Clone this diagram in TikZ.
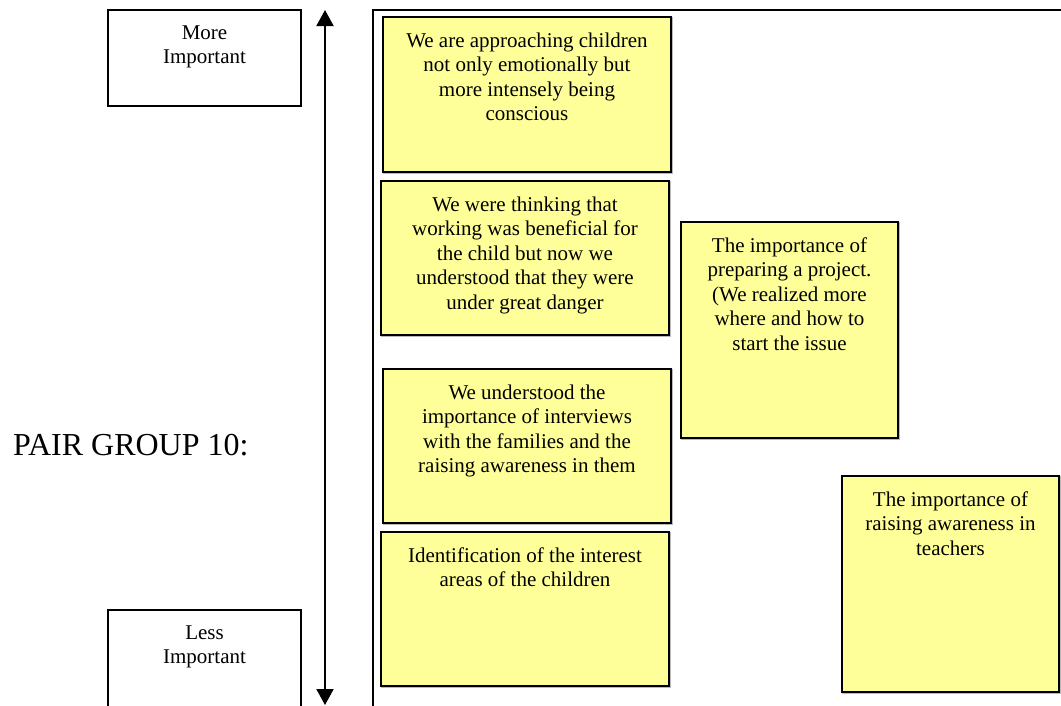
\documentclass[tikz,border=0pt]{standalone}
\usepackage{fontspec}
\setmainfont{Liberation Serif}
\usetikzlibrary{arrows.meta}
\definecolor{notefill}{HTML}{FFFF99}
\begin{document}
\begin{tikzpicture}[x=1pt,y=-1pt,
  notetext/.style={anchor=north, inner sep=0pt, align=center,
    font=\fontsize{21}{24.5}\selectfont, yshift=-15.5pt},
  note/.style={draw=black, line width=1.5pt, fill=notefill, anchor=north west,
    inner sep=0pt, outer sep=0pt,
    preaction={draw=gray!55, line width=1.5pt, transform canvas={xshift=1pt,yshift=-1pt}}},
  keybox/.style={draw=black, line width=1.5pt, fill=white, anchor=north west,
    inner sep=0pt, outer sep=0pt, minimum width=193pt},
  wide/.style={note, minimum width=288pt, minimum height=154pt},
  square/.style={note, minimum width=217pt, minimum height=216pt}]
\useasboundingbox (0,0) rectangle (1061,705);
\clip (0,0) rectangle (1061,705);

% importance scale
\node[keybox, minimum height=96pt,
  label={[notetext]north:More\\Important}] (more) at (108,10) {};
\node[keybox, minimum height=130pt,
  label={[notetext]north:Less\\Important}] (less) at (108,610) {};
\coordinate (top) at (325,10);
\coordinate (bottom) at (325,705);
\draw[line width=2pt, {Triangle[width=17pt,length=16pt]}-{Triangle[width=17pt,length=16pt]}] (top) -- (bottom);

\node[anchor=base west, inner sep=0pt, font=\fontsize{32}{38}\selectfont] (title) at (13,455) {PAIR GROUP 10:};

% board frame
\draw[line width=2pt] (373,720) -- (373,10) -- (1080,10);

% notes
\node[wide, minimum height=155pt,
  label={[notetext]north:We are approaching children\\not only emotionally but\\more intensely being\\conscious}] (n1) at (383,17) {};
\node[wide,
  label={[notetext]north:We were thinking that\\working was beneficial for\\the child but now we\\understood that they were\\under great danger}] (n2) at (381,181) {};
\node[square,
  label={[notetext]north:The importance of\\preparing a project.\\(We realized more\\where and how to\\start the issue}] (n3) at (681,222) {};
\node[wide,
  label={[notetext]north:We understood the\\importance of interviews\\with the families and the\\raising awareness in them}] (n4) at (383,369) {};
\node[wide,
  label={[notetext]north:Identification of the interest\\areas of the children}] (n5) at (381,532) {};
\node[square,
  label={[notetext]north:The importance of\\raising awareness in\\teachers}] (n6) at (842,476) {};
\end{tikzpicture}
\end{document}
